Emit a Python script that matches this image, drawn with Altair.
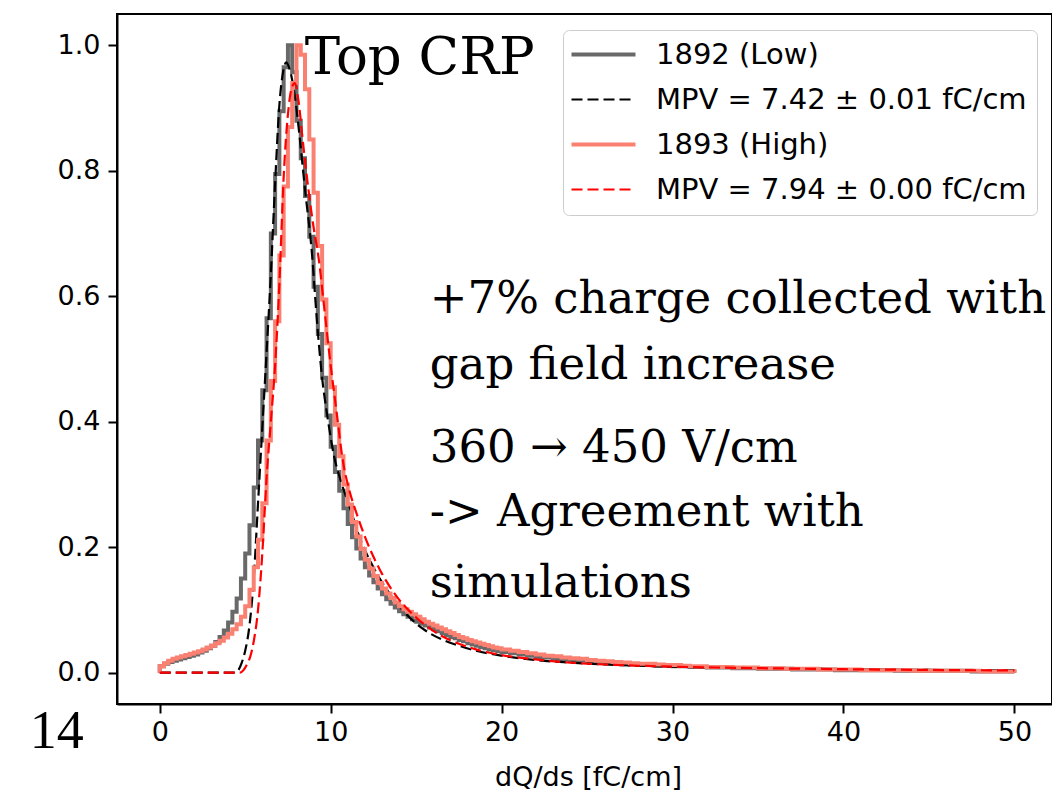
import altair as alt
import numpy as np
import pandas as pd

# ---------------- data ----------------
SERIES = ["1892 (Low)", "MPV = 7.42 ± 0.01 fC/cm", "1893 (High)", "MPV = 7.94 ± 0.00 fC/cm"]
COLORS = ["#696969", "#000000", "#fa8072", "#ff0000"]
DASHES = [[1, 0], [11, 5], [1, 0], [11, 5]]
WIDTHS = [4, 2.2, 4, 2.2]

# histogram bin left edges: fine (0.25) up to 20, coarse (0.5) to 50
FINE_EDGES = list(np.arange(0, 20, 0.25))
COARSE_EDGES = list(np.arange(20, 50, 0.5))
HIST_END = 50.0

LOW_FINE = [
    0.010, 0.014, 0.017, 0.019, 0.021, 0.023, 0.025, 0.027, 0.029, 0.032,
    0.035, 0.039, 0.043, 0.049, 0.057, 0.067, 0.080, 0.097, 0.118, 0.150,
    0.190, 0.235, 0.295, 0.370, 0.450, 0.565, 0.700, 0.795, 0.895, 0.965,
    1.000, 0.957, 0.880, 0.820, 0.760, 0.695, 0.615, 0.540, 0.470, 0.410,
    0.360, 0.320, 0.290, 0.262, 0.237, 0.216, 0.198, 0.182, 0.168, 0.155,
    0.144, 0.134, 0.125, 0.117, 0.110, 0.104, 0.098, 0.093, 0.089, 0.085,
    0.081, 0.078, 0.075, 0.072, 0.069, 0.066, 0.063, 0.060, 0.057, 0.055,
    0.052, 0.050, 0.047, 0.045, 0.043, 0.041, 0.039, 0.037, 0.036, 0.034,
]
LOW_COARSE = [
    0.033, 0.031, 0.029, 0.027, 0.025, 0.024, 0.022, 0.021, 0.020, 0.019,
    0.018, 0.017, 0.016, 0.015, 0.014, 0.013, 0.013, 0.012, 0.011, 0.011,
    0.010, 0.010, 0.009, 0.009, 0.008, 0.008, 0.008, 0.007, 0.007, 0.007,
    0.006, 0.006, 0.006, 0.006, 0.005, 0.005, 0.005, 0.005, 0.005, 0.004,
    0.004, 0.004, 0.004, 0.004, 0.004, 0.004, 0.003, 0.003, 0.003, 0.003,
    0.003, 0.003, 0.003, 0.003, 0.003, 0.002, 0.002, 0.002, 0.002, 0.002,
]
HIGH_FINE = [
    0.010, 0.015, 0.019, 0.022, 0.024, 0.026, 0.028, 0.030, 0.032, 0.034,
    0.037, 0.040, 0.043, 0.047, 0.051, 0.056, 0.062, 0.069, 0.077, 0.089,
    0.106, 0.132, 0.168, 0.212, 0.270, 0.370, 0.465, 0.560, 0.665, 0.775,
    0.870, 0.940, 1.000, 0.985, 0.930, 0.850, 0.765, 0.680, 0.595, 0.525,
    0.455, 0.395, 0.345, 0.300, 0.268, 0.240, 0.217, 0.197, 0.180, 0.166,
    0.154, 0.143, 0.134, 0.126, 0.119, 0.112, 0.106, 0.101, 0.097, 0.093,
    0.089, 0.085, 0.081, 0.078, 0.075, 0.072, 0.069, 0.066, 0.063, 0.060,
    0.057, 0.055, 0.052, 0.050, 0.048, 0.046, 0.044, 0.042, 0.040, 0.039,
]
HIGH_COARSE = [
    0.037, 0.035, 0.033, 0.031, 0.029, 0.027, 0.026, 0.024, 0.023, 0.022,
    0.020, 0.019, 0.018, 0.017, 0.016, 0.015, 0.014, 0.014, 0.013, 0.012,
    0.012, 0.011, 0.010, 0.010, 0.009, 0.009, 0.009, 0.008, 0.008, 0.008,
    0.007, 0.007, 0.007, 0.006, 0.006, 0.006, 0.006, 0.005, 0.005, 0.005,
    0.005, 0.005, 0.004, 0.004, 0.004, 0.004, 0.004, 0.004, 0.003, 0.003,
    0.003, 0.003, 0.003, 0.003, 0.003, 0.003, 0.002, 0.002, 0.002, 0.002,
]

FIT_LOW_X = [0, 4.4, 4.6, 4.8, 5.0, 5.25, 5.5, 5.75, 6.0, 6.25, 6.5, 6.75, 7.0, 7.2, 7.4,
             7.6, 7.9, 8.2, 8.5, 8.9, 9.2, 9.5, 9.8, 10.2, 10.6, 11.1, 11.7, 12.5, 13.4,
             14.5, 15.5, 16.5, 17.5, 18.5, 20, 22, 24, 26, 28, 30, 33, 36, 40, 45, 50]
FIT_LOW_Y = [0, 0, 0.004, 0.016, 0.035, 0.075, 0.15, 0.27, 0.39, 0.51, 0.635, 0.78, 0.905,
             0.955, 0.973, 0.962, 0.92, 0.85, 0.77, 0.67, 0.56, 0.47, 0.41, 0.345, 0.305,
             0.265, 0.215, 0.168, 0.128, 0.091, 0.068, 0.053, 0.043, 0.035, 0.027, 0.02,
             0.016, 0.013, 0.011, 0.0095, 0.008, 0.0068, 0.0055, 0.0043, 0.0035]
FIT_HIGH_X = [0, 4.7, 4.9, 5.1, 5.3, 5.5, 5.75, 6.0, 6.25, 6.5, 6.75, 7.0, 7.25, 7.5, 7.7,
              7.9, 8.1, 8.4, 8.7, 9.0, 9.3, 9.65, 10.0, 10.35, 10.7, 11.1, 11.5, 12.1, 12.9,
              13.9, 15.0, 16.4, 17.5, 18.5, 20, 22, 24, 26, 28, 30, 33, 36, 40, 45, 50]
FIT_HIGH_Y = [0, 0, 0.004, 0.013, 0.026, 0.05, 0.1, 0.19, 0.31, 0.40, 0.49, 0.62, 0.79,
              0.89, 0.93, 0.94, 0.915, 0.84, 0.77, 0.71, 0.66, 0.575, 0.49, 0.415, 0.34,
              0.29, 0.255, 0.21, 0.163, 0.12, 0.088, 0.06, 0.046, 0.037, 0.028, 0.021,
              0.016, 0.013, 0.011, 0.0095, 0.008, 0.0068, 0.0055, 0.0043, 0.0035]

X_TICKS = [0, 10, 20, 30, 40, 50]
Y_TICKS = [0.0, 0.2, 0.4, 0.6, 0.8, 1.0]

NOTE_LINES = ["+7% charge collected with", "gap field increase", "360 → 450 V/cm",
              "-> Agreement with", "simulations"]
NOTE_X = [15.8, 15.8, 15.8, 15.8, 15.8]
NOTE_Y = [0.574, 0.468, 0.336, 0.234, 0.121]


def hist_frame(name, values):
    edges = FINE_EDGES + COARSE_EDGES
    xs = [0.0] + [float(e) for e in edges] + [HIST_END, HIST_END]
    ys = [0.0] + list(values) + [values[-1], 0.0]
    return pd.DataFrame({"x": xs, "y": ys, "series": name, "i": range(len(xs))})


def fit_frame(name, xs, ys):
    return pd.DataFrame({"x": xs, "y": ys, "series": name, "i": range(len(xs))})


low_hist = hist_frame(SERIES[0], LOW_FINE + LOW_COARSE)
high_hist = hist_frame(SERIES[2], HIGH_FINE + HIGH_COARSE)
low_fit = fit_frame(SERIES[1], FIT_LOW_X, FIT_LOW_Y)
high_fit = fit_frame(SERIES[3], FIT_HIGH_X, FIT_HIGH_Y)

# ---------------- encodings ----------------
leg = alt.Legend(
    title=None, orient="none", legendX=446, legendY=16,
    symbolType="M-3,0L3,0", symbolSize=455, symbolOffset=16,
    labelFont="DejaVu Sans", labelFontSize=29, labelColor="black", labelLimit=700,
    labelOffset=38, rowPadding=15, padding=10,
    strokeColor="#cccccc", fillColor="white", cornerRadius=6,
)

x_enc = alt.X("x:Q", scale=alt.Scale(domain=[-2.5, 52.2], nice=False, zero=False),
              axis=alt.Axis(values=X_TICKS, title="dQ/ds [fC/cm]", grid=False,
                            labelPadding=6, titleX=471, titleY=81,
                            titleBaseline="alphabetic", titleAnchor="start", titleAlign="center"))
y_enc = alt.Y("y:Q", scale=alt.Scale(domain=[-0.05, 1.05], nice=False, zero=False),
              axis=alt.Axis(values=Y_TICKS, format=".1f", title=None, grid=False,
                            labelPadding=8))
color_enc = alt.Color("series:N", scale=alt.Scale(domain=SERIES, range=COLORS), legend=leg)
dash_enc = alt.StrokeDash("series:N", scale=alt.Scale(domain=SERIES, range=DASHES), legend=leg)
width_enc = alt.StrokeWidth("series:N",
                            scale=alt.Scale(type="ordinal", domain=SERIES, range=WIDTHS),
                            legend=leg)


def line_layer(df, step):
    if step:
        mark = alt.Chart(df).mark_line(interpolate="step-after", strokeJoin="miter")
    else:
        mark = alt.Chart(df).mark_line(interpolate="monotone")
    return mark.encode(x=x_enc, y=y_enc, color=color_enc, strokeDash=dash_enc,
                       strokeWidth=width_enc, order=alt.Order("i:Q"))


notes_df = pd.DataFrame({"x": NOTE_X, "y": NOTE_Y, "t": NOTE_LINES})
notes = alt.Chart(notes_df).mark_text(
    font="DejaVu Serif", fontSize=45, align="left", baseline="alphabetic", color="black"
).encode(x="x:Q", y="y:Q", text="t:N")

title_df = pd.DataFrame({"x": [8.48], "y": [0.954], "t": ["Top CRP"]})
title_txt = alt.Chart(title_df).mark_text(
    font="DejaVu Serif", fontSize=53, align="left", baseline="alphabetic", color="black"
).encode(x="x:Q", y="y:Q", text="t:N")

page_df = pd.DataFrame({"x": [-7.6], "y": [-0.1205], "t": ["14"]})
page_txt = alt.Chart(page_df).mark_text(
    font="Liberation Serif", fontSize=54, align="left", baseline="alphabetic", color="black"
).encode(x="x:Q", y="y:Q", text="t:N")

chart = alt.layer(
    line_layer(low_hist, True),
    line_layer(low_fit, False),
    line_layer(high_hist, True),
    line_layer(high_fit, False),
    notes, title_txt, page_txt,
).properties(
    width=935, height=690,
    autosize=alt.AutoSizeParams(type="none"),
    padding={"left": 117, "top": 14, "right": 0, "bottom": 90},
    background="white",
).configure_view(
    stroke="black", strokeWidth=2
).configure_axis(
    domainColor="black", domainWidth=2, tickColor="black", tickWidth=2, tickSize=9,
    labelFont="DejaVu Sans", labelFontSize=27, labelColor="black",
    titleFont="DejaVu Sans", titleFontSize=27, titleFontWeight="normal", titleColor="black",
)

chart.save("out.html", embed_options={"renderer": "svg", "actions": False})
